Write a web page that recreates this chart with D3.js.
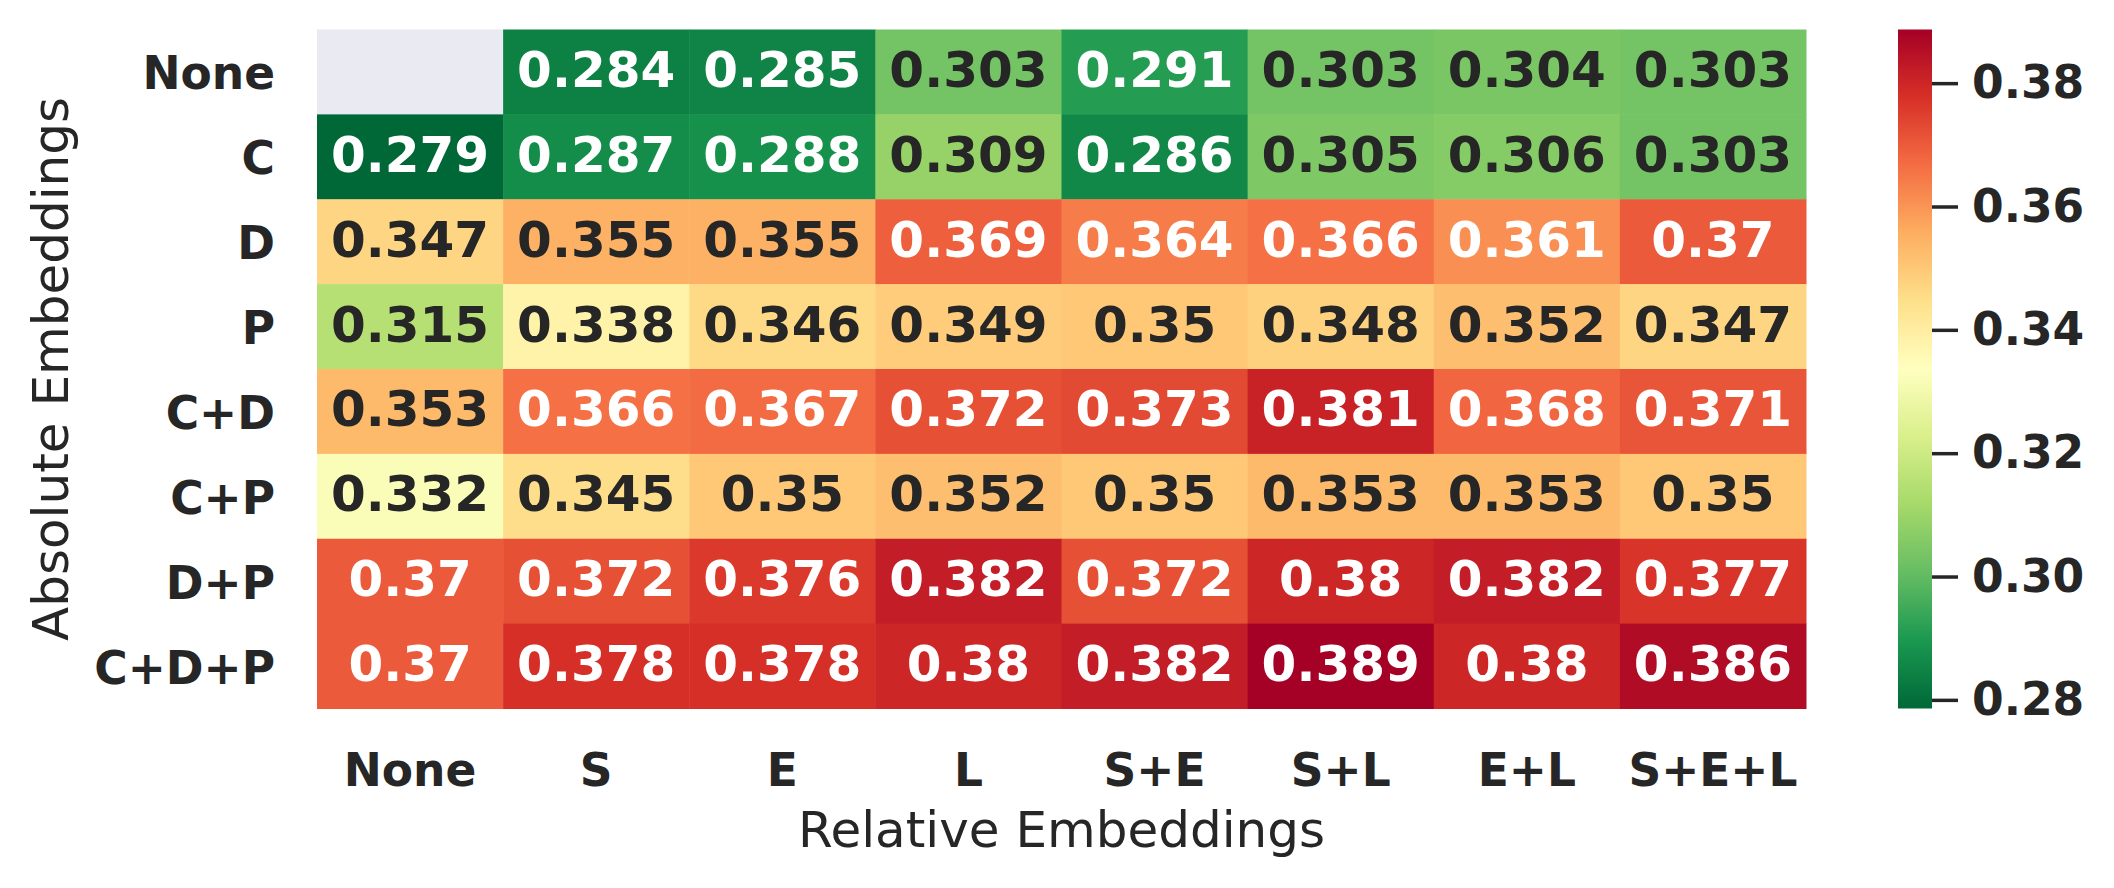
<!DOCTYPE html>
<html>
<head>
<meta charset="utf-8">
<script src="https://cdn.jsdelivr.net/npm/d3@7"></script>
<style>
  body { margin: 0; background: #fff; }
  text { font-family: "DejaVu Sans", sans-serif; }
</style>
</head>
<body>
<script>
// rows = absolute embeddings, columns = relative embeddings
const rows = ["None", "C", "D", "P", "C+D", "C+P", "D+P", "C+D+P"];
const cols = ["None", "S", "E", "L", "S+E", "S+L", "E+L", "S+E+L"];

// one array per row (null = no value)
const rowNone = [null, 0.284, 0.285, 0.303, 0.291, 0.303, 0.304, 0.303];
const rowC    = [0.2786, 0.287, 0.288, 0.309, 0.286, 0.305, 0.306, 0.303];
const rowD    = [0.347, 0.355, 0.355, 0.369, 0.364, 0.366, 0.361, 0.370];
const rowP    = [0.315, 0.338, 0.346, 0.349, 0.350, 0.348, 0.352, 0.347];
const rowCD   = [0.353, 0.366, 0.367, 0.372, 0.373, 0.381, 0.368, 0.371];
const rowCP   = [0.332, 0.345, 0.350, 0.352, 0.350, 0.353, 0.353, 0.350];
const rowDP   = [0.370, 0.372, 0.376, 0.382, 0.372, 0.380, 0.382, 0.377];
const rowCDP  = [0.370, 0.378, 0.378, 0.380, 0.382, 0.3887, 0.380, 0.386];

const cbarTicks = [0.28, 0.30, 0.32, 0.34, 0.36, 0.38];

// RdYlGn reversed (green = low, red = high)
const palette = ["#006837", "#1a9850", "#66bd63", "#a6d96a", "#d9ef8b", "#ffffbf",
                 "#fee08b", "#fdae61", "#f46d43", "#d73027", "#a50026"];

const matrix = [rowNone, rowC, rowD, rowP, rowCD, rowCP, rowDP, rowCDP];
const cells = [];
matrix.forEach((vals, i) => vals.forEach((v, j) => cells.push({row: rows[i], col: cols[j], value: v})));

const W = 2114, H = 888;
const plot = {left: 317, right: 1806, top: 29.5, bottom: 708.5};
const cbar = {left: 1898, width: 34};
const tickSize = 45.5;

const svg = d3.select("body").append("svg")
    .attr("width", W)
    .attr("height", H);

svg.append("rect").attr("width", W).attr("height", H).attr("fill", "#fff");

const x = d3.scaleBand().domain(cols).range([plot.left, plot.right]);
const y = d3.scaleBand().domain(rows).range([plot.top, plot.bottom]);

const extent = d3.extent(cells.filter(d => d.value != null), d => d.value);
const color = d3.scaleLinear()
    .domain(palette.map((c, i) => extent[0] + (extent[1] - extent[0]) * i / (palette.length - 1)))
    .range(palette)
    .interpolate(d3.interpolateRgb);

// seaborn style text colour from luminance
function lum(c) {
    const rgb = d3.rgb(c);
    const f = v => { v = v / 255; return v <= 0.03928 ? v / 12.92 : Math.pow((v + 0.055) / 1.055, 2.4); };
    return 0.2126 * f(rgb.r) + 0.7152 * f(rgb.g) + 0.0722 * f(rgb.b);
}

const fmt = d3.format(".3~g");

// cells
svg.append("g").selectAll("rect")
    .data(cells)
    .enter().append("rect")
    .attr("x", d => x(d.col))
    .attr("y", d => y(d.row))
    .attr("width", x.bandwidth() + 0.5)
    .attr("height", y.bandwidth() + 0.5)
    .attr("fill", d => d.value == null ? "#eaeaf2" : color(d.value));

// annotations
svg.append("g").selectAll("text")
    .data(cells.filter(d => d.value != null))
    .enter().append("text")
    .attr("x", d => x(d.col) + x.bandwidth() / 2)
    .attr("y", d => y(d.row) + y.bandwidth() / 2 + 15)
    .attr("text-anchor", "middle")
    .attr("font-size", 50)
    .attr("font-weight", "bold")
    .attr("fill", d => lum(color(d.value)) > 0.408 ? "#262626" : "#ffffff")
    .text(d => fmt(d.value));

// row labels
svg.append("g").selectAll("text")
    .data(rows)
    .enter().append("text")
    .attr("x", 275)
    .attr("y", d => y(d) + y.bandwidth() / 2 + 17.5)
    .attr("text-anchor", "end")
    .attr("font-size", tickSize)
    .attr("font-weight", "bold")
    .attr("fill", "#262626")
    .text(d => d);

// column labels
svg.append("g").selectAll("text")
    .data(cols)
    .enter().append("text")
    .attr("x", d => x(d) + x.bandwidth() / 2)
    .attr("y", 786)
    .attr("text-anchor", "middle")
    .attr("font-size", tickSize)
    .attr("font-weight", "bold")
    .attr("fill", "#262626")
    .text(d => d);

// axis titles
svg.append("text")
    .attr("transform", `translate(68,${(plot.top + plot.bottom) / 2}) rotate(-90)`)
    .attr("text-anchor", "middle")
    .attr("font-size", 50)
    .attr("fill", "#262626")
    .text("Absolute Embeddings");

svg.append("text")
    .attr("x", (plot.left + plot.right) / 2)
    .attr("y", 847)
    .attr("text-anchor", "middle")
    .attr("font-size", 50)
    .attr("fill", "#262626")
    .text("Relative Embeddings");

// colour bar
const cy = d3.scaleLinear().domain(extent).range([plot.bottom, plot.top]);

const grad = svg.append("defs").append("linearGradient")
    .attr("id", "cbar")
    .attr("x1", 0).attr("y1", 1).attr("x2", 0).attr("y2", 0);
grad.selectAll("stop")
    .data(color.domain())
    .enter().append("stop")
    .attr("offset", (d, i) => i / (palette.length - 1))
    .attr("stop-color", d => color(d));

svg.append("rect")
    .attr("x", cbar.left)
    .attr("y", plot.top)
    .attr("width", cbar.width)
    .attr("height", plot.bottom - plot.top)
    .attr("fill", "url(#cbar)");

const cax = svg.append("g")
    .attr("transform", `translate(${cbar.left + cbar.width},0)`)
    .call(d3.axisRight(cy).tickValues(cbarTicks).tickSize(26).tickPadding(14).tickFormat(d3.format(".2f")));
cax.select(".domain").remove();
cax.selectAll("line").attr("stroke", "#262626").attr("stroke-width", 3.5);
cax.selectAll("text")
    .attr("font-family", "DejaVu Sans")
    .attr("font-size", tickSize)
    .attr("font-weight", "bold")
    .attr("fill", "#262626");
</script>
</body>
</html>
